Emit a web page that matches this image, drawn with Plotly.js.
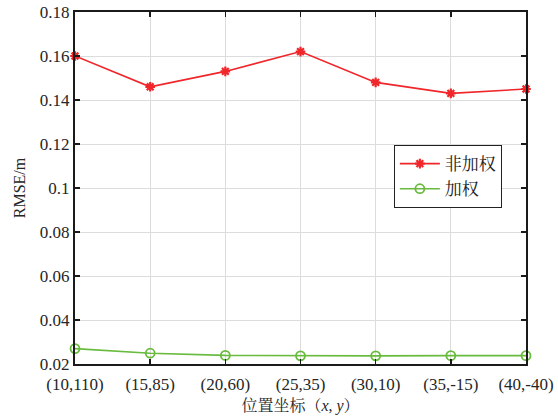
<!DOCTYPE html>
<html><head><meta charset="utf-8">
<script src="https://cdn.plot.ly/plotly-3.0.1.min.js"></script>
<style>html,body{margin:0;padding:0;background:#fff}</style>
</head><body><div id="chart" style="width:558px;height:419px"></div>
<script>
const categories = ["(10,110)","(15,85)","(20,60)","(25,35)","(30,10)","(35,-15)","(40,-40)"];
const unweighted = [0.160, 0.146, 0.153, 0.162, 0.148, 0.143, 0.145];
const weighted = [0.027, 0.0249, 0.0239, 0.0237, 0.0237, 0.0238, 0.0238];
const seriesNames = ["非加权", "加权"];
const yTicks = [0.02,0.04,0.06,0.08,0.1,0.12,0.14,0.16,0.18];

const fontFam = '"Liberation Serif", "Times New Roman", "Noto Serif CJK SC", "Noto Sans CJK SC", serif';
const traces = [
  {x: categories, y: unweighted, name: seriesNames[0], type: 'scatter', mode: 'lines+markers',
   line: {color: '#f0262a', width: 1.6},
   marker: {symbol: 'asterisk-open', size: 8, color: '#f0262a', line: {color: '#f0262a', width: 2.2}},
   cliponaxis: false},
  {x: categories, y: weighted, name: seriesNames[1], type: 'scatter', mode: 'lines+markers',
   line: {color: '#68bb3c', width: 1.6},
   marker: {symbol: 'circle-open', size: 9, color: '#68bb3c', line: {color: '#68bb3c', width: 1.8}},
   cliponaxis: false}
];
const layout = {
  width: 558, height: 419,
  margin: {l: 75, r: 32, t: 12, b: 55},
  paper_bgcolor: '#fff', plot_bgcolor: '#fff',
  font: {family: fontFam, size: 17, color: '#262626'},
  showlegend: true,
  legend: {x: 0.707, y: 0.622, xanchor: 'left', yanchor: 'top', bordercolor: '#222', borderwidth: 1,
           bgcolor: '#fff', font: {family: fontFam, size: 17, color: '#222'}, tracegroupgap: 0, itemwidth: 40},
  xaxis: {type: 'category', range: [0, 6], showline: true, linecolor: '#1a1a1a', linewidth: 2,
          mirror: 'ticks', ticks: 'inside', ticklen: 5, tickwidth: 1.5, tickcolor: '#1a1a1a',
          showgrid: true, gridcolor: '#dcdcdc', gridwidth: 1, zeroline: false, ticklabelstandoff: 4,
          tickfont: {family: fontFam, size: 17, color: '#262626'},
          title: {text: '位置坐标（<i>x</i>, <i>y</i>）', standoff: 6, font: {family: fontFam, size: 16, color: '#262626'}}},
  yaxis: {range: [0.02, 0.18], tickvals: yTicks, showline: true, linecolor: '#1a1a1a', linewidth: 2,
          mirror: 'ticks', ticks: 'inside', ticklen: 5, tickwidth: 1.5, tickcolor: '#1a1a1a',
          showgrid: true, gridcolor: '#dcdcdc', gridwidth: 1, zeroline: false,
          tickfont: {family: fontFam, size: 17, color: '#262626'},
          title: {text: 'RMSE/m', standoff: 10, font: {family: fontFam, size: 16, color: '#262626'}}}
};
Plotly.newPlot('chart', traces, layout, {displayModeBar: false, staticPlot: true});
</script></body></html>
